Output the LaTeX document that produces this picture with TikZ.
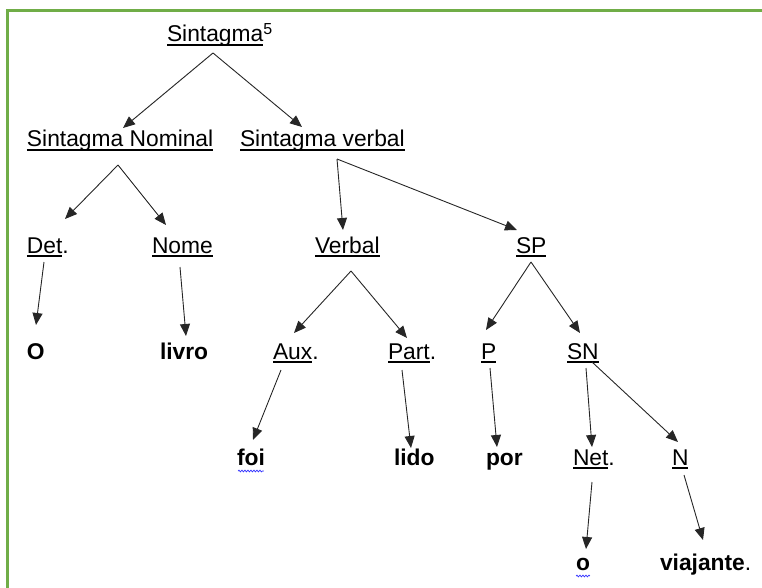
\documentclass[tikz,border=0pt]{standalone}
\usepackage{fontspec}
\setmainfont{Liberation Sans}
\usetikzlibrary{arrows.meta,decorations.pathmorphing}
\definecolor{framegreen}{HTML}{70AD47}
\newcommand\ulw[1]{\setbox0\hbox{#1}\rlap{\rule[-3.6pt]{\wd0}{1.4pt}}\box0}
\tikzset{
  lbl/.style={anchor=base west,inner sep=0pt,outer sep=0pt,font=\fontsize{22.8pt}{27pt}\selectfont},
  word/.style={lbl,font=\fontsize{22.8pt}{27pt}\selectfont\bfseries},
  arr/.style={-{Triangle[length=12pt,width=10pt]},line width=0.9pt,draw=black!85},
  spell/.style={draw=blue!80,line width=0.7pt,decorate,decoration={snake,amplitude=0.9pt,segment length=3pt}},
  frame/.style={draw=framegreen,line width=2.4pt}
}
\begin{document}
\begin{tikzpicture}[x=1pt,y=-1pt]
\useasboundingbox (0,0) rectangle (762,588);
\clip (0,0) rectangle (762,588);
\draw[frame] (7.5,600) -- (7.5,10.5) -- (780,10.5);
% labels
\node[lbl] (s0) at (167,42) {\ulw{Sintagma}\textsuperscript{5}};
\node[lbl] (snom) at (27,147) {\ulw{Sintagma Nominal}};
\node[lbl] (sverb) at (240,147) {\ulw{Sintagma verbal}};
\node[lbl] (det) at (27,253) {\ulw{Det}.};
\node[lbl] (nome) at (152,253) {\ulw{Nome}};
\node[lbl] (verbal) at (315,253) {\ulw{Verbal}};
\node[lbl] (sp) at (516,253) {\ulw{SP}};
\node[word] (o1) at (27,359) {O};
\node[word] (livro) at (160,359) {livro};
\node[lbl] (aux) at (273,359) {\ulw{Aux}.};
\node[lbl] (part) at (388,359) {\ulw{Part}.};
\node[lbl] (p) at (481,359) {\ulw{P}};
\node[lbl] (sn) at (567,359) {\ulw{SN}};
\node[word] (foi) at (237,465) {foi};
\node[word] (lido) at (394,465) {lido};
\node[word] (por) at (486,465) {por};
\node[lbl] (net) at (573,465) {\ulw{Net}.};
\node[lbl] (n) at (672,465) {\ulw{N}};
\node[word] (o2) at (576,570) {o};
\node[word] (viaj) at (660,570) {viajante\mdseries.};
% spell-check marks
\draw[spell] ([shift={(1,6)}]foi.base west) -- ([shift={(-1,6)}]foi.base east);
\draw[spell] ([shift={(0,6)}]o2.base west) -- ([shift={(0,6)}]o2.base east);
% connectors
\draw[arr] ([shift={(46,11)}]s0.base west) -- ([shift={(96,-19)}]snom.base west);
\draw[arr] ([shift={(46,11)}]s0.base west) -- ([shift={(62,-20)}]sverb.base west);
\draw[arr] ([shift={(91,18)}]snom.base west) -- ([shift={(38,-34)}]det.base west);
\draw[arr] ([shift={(91,18)}]snom.base west) -- ([shift={(14,-28)}]nome.base west);
\draw[arr] ([shift={(17,9)}]det.base west) -- ([shift={(9,-34)}]o1.base west);
\draw[arr] ([shift={(28,14)}]nome.base west) -- ([shift={(26,-23)}]livro.base west);
\draw[arr] ([shift={(97,12)}]sverb.base west) -- ([shift={(28,-23)}]verbal.base west);
\draw[arr] ([shift={(97,12)}]sverb.base west) -- ([shift={(1,-23)}]sp.base west);
\draw[arr] ([shift={(36,18)}]verbal.base west) -- ([shift={(21,-26)}]aux.base west);
\draw[arr] ([shift={(36,18)}]verbal.base west) -- ([shift={(19,-21)}]part.base west);
\draw[arr] ([shift={(15,9)}]sp.base west) -- ([shift={(5,-29)}]p.base west);
\draw[arr] ([shift={(15,9)}]sp.base west) -- ([shift={(13,-26)}]sn.base west);
\draw[arr] ([shift={(8,11)}]aux.base west) -- ([shift={(16,-25)}]foi.base west);
\draw[arr] ([shift={(14,11)}]part.base west) -- ([shift={(17,-17)}]lido.base west);
\draw[arr] ([shift={(9,9)}]p.base west) -- ([shift={(11,-18)}]por.base west);
\draw[arr] ([shift={(19,9)}]sn.base west) -- ([shift={(19,-18)}]net.base west);
\draw[arr] ([shift={(25,3)}]sn.base west) -- ([shift={(6,-23)}]n.base west);
\draw[arr] ([shift={(19,17)}]net.base west) -- ([shift={(10,-21)}]o2.base west);
\draw[arr] ([shift={(12,10)}]n.base west) -- ([shift={(43,-30)}]viaj.base west);
\end{tikzpicture}
\end{document}
